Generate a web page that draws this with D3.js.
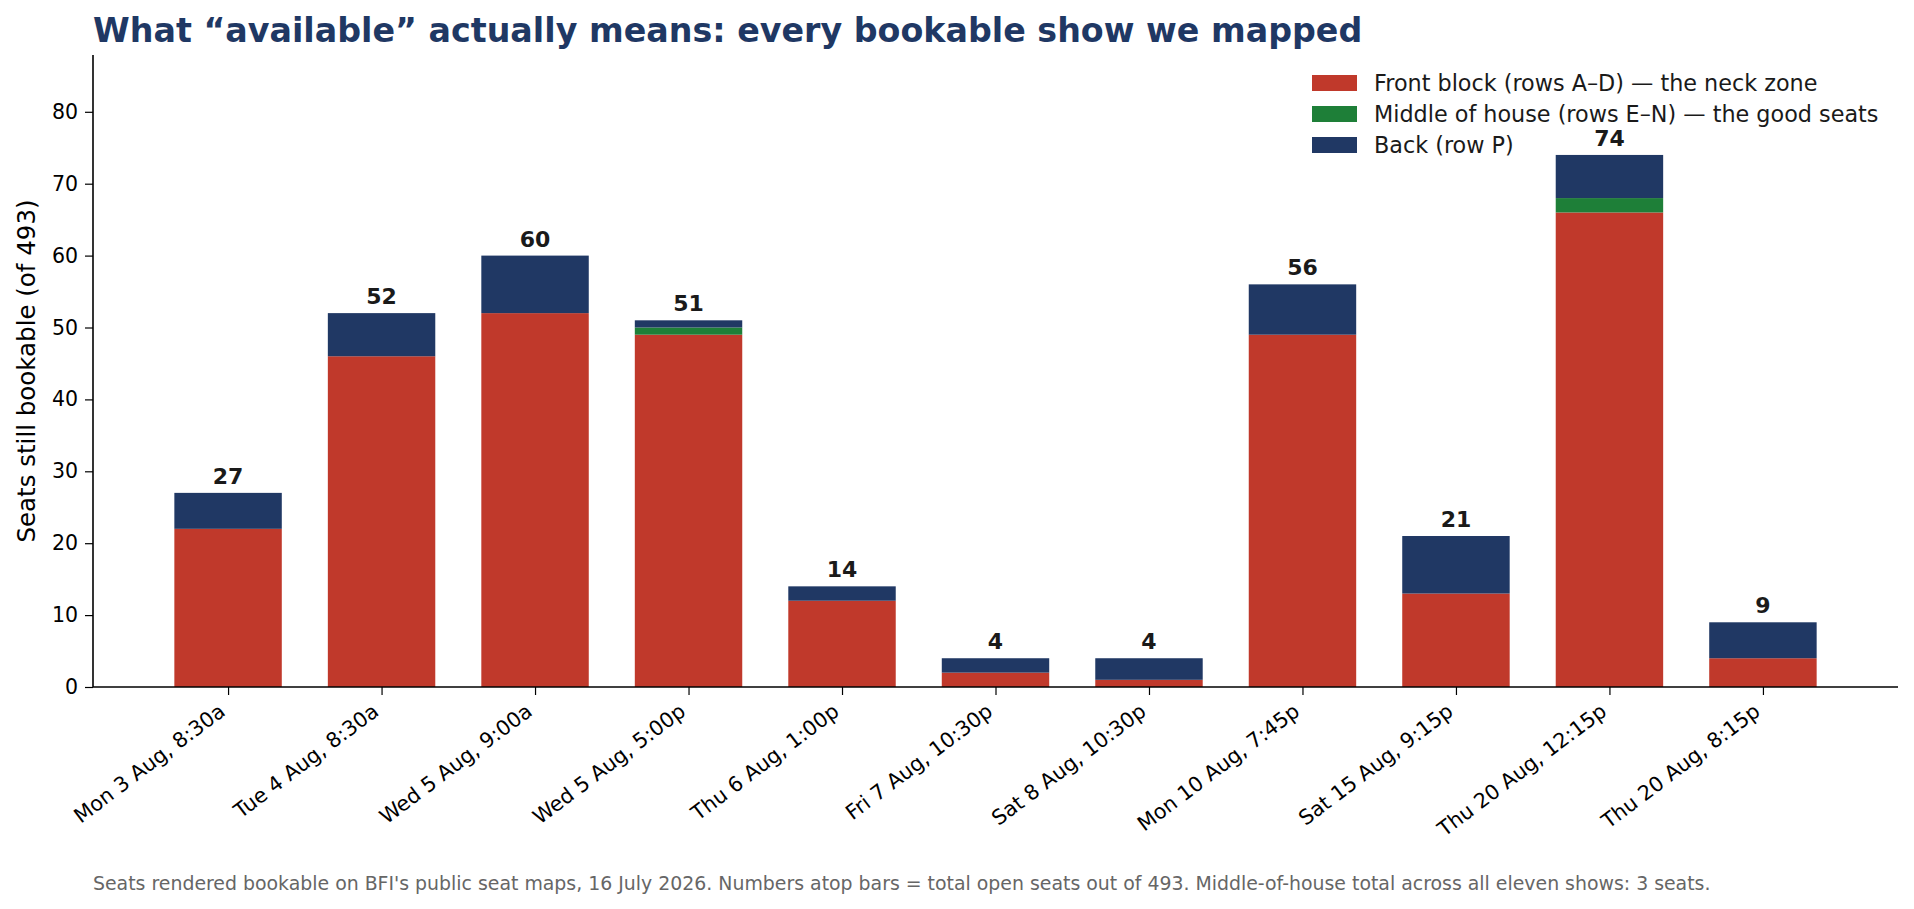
<!DOCTYPE html>
<html>
<head>
<meta charset="utf-8">
<script src="https://cdn.jsdelivr.net/npm/d3@7"></script>
<style>
  body { margin: 0; background: #fff; }
  svg { font-family: "DejaVu Sans", sans-serif; }
</style>
</head>
<body>
<script>
// shows and seat counts
const shows = ["Mon 3 Aug, 8:30a", "Tue 4 Aug, 8:30a", "Wed 5 Aug, 9:00a", "Wed 5 Aug, 5:00p",
  "Thu 6 Aug, 1:00p", "Fri 7 Aug, 10:30p", "Sat 8 Aug, 10:30p", "Mon 10 Aug, 7:45p",
  "Sat 15 Aug, 9:15p", "Thu 20 Aug, 12:15p", "Thu 20 Aug, 8:15p"];
const front = [22, 46, 52, 49, 12, 2, 1, 49, 13, 66, 4];
const middle = [0, 0, 0, 1, 0, 0, 0, 0, 0, 2, 0];
const back = [5, 6, 8, 1, 2, 2, 3, 7, 8, 6, 5];
const yTicks = [0, 10, 20, 30, 40, 50, 60, 70, 80];

const seriesNames = ["Front block (rows A–D) — the neck zone",
  "Middle of house (rows E–N) — the good seats",
  "Back (row P)"];
const colors = ["#c0392b", "#1e7f38", "#203864"];

const width = 1914, height = 909;
const margin = {top: 55, right: 16, bottom: 222, left: 93};

const svg = d3.select("body").append("svg")
    .attr("width", width)
    .attr("height", height);

const rows = shows.map((s, i) => ({show: s, front: front[i], middle: middle[i], back: back[i],
  total: front[i] + middle[i] + back[i]}));

const stack = d3.stack().keys(["front", "middle", "back"]);
const layers = stack(rows);

const x = d3.scaleLinear()
    .domain([-0.88, shows.length - 1 + 0.88])
    .range([margin.left, width - margin.right]);
const step = x(1) - x(0);
const barW = step * 0.7;

const y = d3.scaleLinear()
    .domain([0, 87.9])
    .range([height - margin.bottom, margin.top]);

// bars
svg.append("g").selectAll("g")
  .data(layers)
  .join("g")
    .attr("fill", (d, i) => colors[i])
  .selectAll("rect")
  .data(d => d)
  .join("rect")
    .attr("x", (d, i) => x(i) - barW / 2)
    .attr("width", barW)
    .attr("y", d => y(d[1]))
    .attr("height", d => y(d[0]) - y(d[1]));

// totals on top
svg.append("g")
    .attr("font-size", 22)
    .attr("font-weight", "bold")
    .attr("fill", "#1a1a1a")
    .attr("text-anchor", "middle")
  .selectAll("text")
  .data(rows)
  .join("text")
    .attr("x", (d, i) => x(i))
    .attr("y", d => y(d.total) - 9)
    .text(d => d.total);

// y axis
const yAxis = svg.append("g")
    .attr("transform", `translate(${margin.left},0)`)
    .call(d3.axisLeft(y).tickValues(yTicks).tickSize(8).tickPadding(7))
    .call(g => g.select(".domain").attr("d", `M0,${y(0)}V${margin.top}`).attr("stroke-width", 1.6));
yAxis.selectAll("text").attr("font-size", 20.5).attr("fill", "#000").attr("font-family", "DejaVu Sans");
yAxis.selectAll(".tick line").attr("stroke-width", 1.2);

// x axis
const xAxis = svg.append("g")
    .attr("transform", `translate(0,${y(0)})`)
    .call(d3.axisBottom(x).tickValues(d3.range(shows.length)).tickSize(8).tickFormat(i => shows[i]))
    .call(g => g.select(".domain").attr("d", `M${margin.left},0H${width - margin.right}`).attr("stroke-width", 1.6));
xAxis.selectAll(".tick line").attr("stroke-width", 1.2);
xAxis.selectAll("text")
    .attr("font-size", 20.7)
    .attr("font-family", "DejaVu Sans")
    .attr("fill", "#000")
    .attr("text-anchor", "end")
    .attr("dy", null)
    .attr("y", null)
    .attr("transform", "translate(-2,27) rotate(-37)");

// y label
svg.append("text")
    .attr("transform", `translate(35,${(y(0) + margin.top) / 2}) rotate(-90)`)
    .attr("text-anchor", "middle")
    .attr("font-size", 24.5)
    .attr("fill", "#000")
    .text("Seats still bookable (of 493)");

// title
svg.append("text")
    .attr("x", margin.left)
    .attr("y", 42)
    .attr("font-size", 33.3)
    .attr("font-weight", "bold")
    .attr("fill", "#1f3864")
    .text("What “available” actually means: every bookable show we mapped");

// legend
const legend = svg.append("g")
    .attr("transform", "translate(1312,75)");
const li = legend.selectAll("g")
  .data(seriesNames)
  .join("g")
    .attr("transform", (d, i) => `translate(0,${i * 31})`);
li.append("rect")
    .attr("width", 45)
    .attr("height", 16)
    .attr("fill", (d, i) => colors[i]);
li.append("text")
    .attr("x", 62)
    .attr("y", 15.5)
    .attr("font-size", 22.3)
    .attr("fill", "#1a1a1a")
    .text(d => d);

// footnote
svg.append("text")
    .attr("x", margin.left)
    .attr("y", 890)
    .attr("font-size", 18.9)
    .attr("fill", "#666")
    .text("Seats rendered bookable on BFI's public seat maps, 16 July 2026. Numbers atop bars = total open seats out of 493. Middle-of-house total across all eleven shows: 3 seats.");
</script>
</body>
</html>
